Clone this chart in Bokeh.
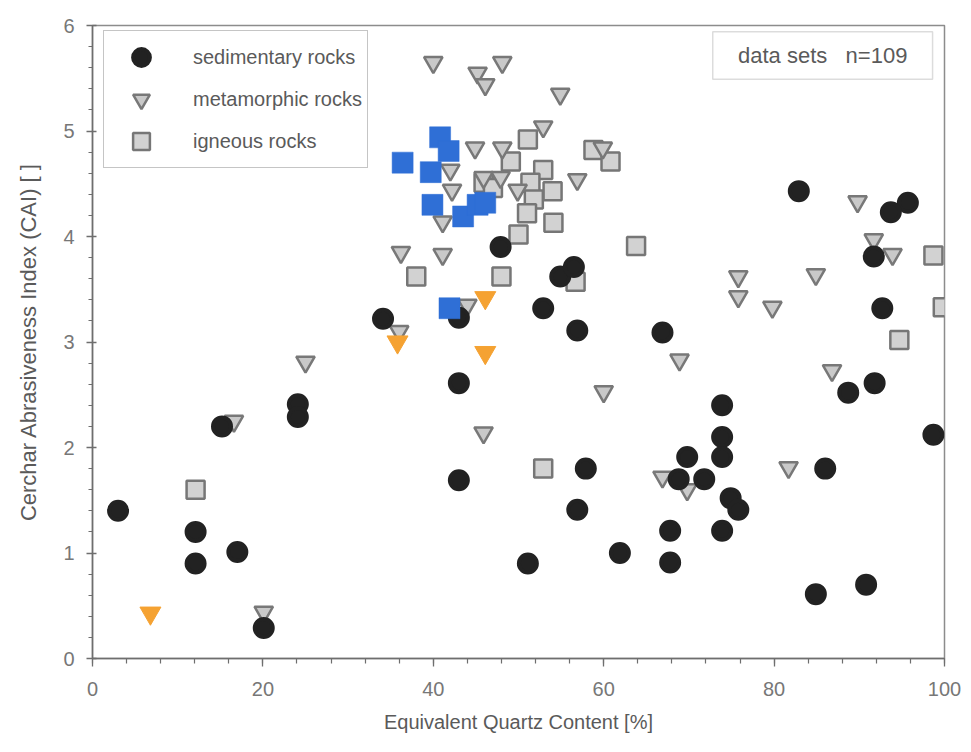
from bokeh.plotting import figure
from bokeh.models import (Legend, LegendItem, BoxAnnotation, Label,
                          SingleIntervalTicker, Range1d)
from bokeh.embed import file_html
from bokeh.resources import INLINE

# ---- data ----
sed_x = [3.0, 12.1, 12.1, 17.0, 15.2, 24.1, 24.1, 20.1, 34.1, 43.0, 43.0, 43.0,
         47.9, 52.9, 54.9, 56.5, 56.9, 66.9, 51.1, 57.9, 56.9, 61.9, 67.8, 67.8,
         68.8, 69.8, 71.8, 73.9, 73.9, 73.9, 74.9, 75.8, 73.9, 82.9, 95.7, 93.7,
         91.7, 92.7, 91.8, 88.7, 86.0, 98.7, 84.9, 90.8]
sed_y = [1.40, 1.20, 0.90, 1.01, 2.20, 2.41, 2.29, 0.29, 3.22, 3.23, 2.61, 1.69,
         3.90, 3.32, 3.62, 3.71, 3.11, 3.09, 0.90, 1.80, 1.41, 1.00, 1.21, 0.91,
         1.70, 1.91, 1.70, 2.40, 2.10, 1.91, 1.52, 1.41, 1.21, 4.43, 4.32, 4.23,
         3.81, 3.32, 2.61, 2.52, 1.80, 2.12, 0.61, 0.70]

met_x = [16.6, 20.1, 25.0, 36.0, 36.2, 41.1, 44.0, 45.9, 40.0, 48.1, 45.2, 46.1,
         54.9, 52.9, 44.9, 48.1, 42.0, 42.2, 41.1, 45.9, 47.9, 49.9, 56.9, 59.9,
         68.9, 60.0, 66.9, 69.8, 81.7, 89.8, 91.7, 93.9, 84.9, 79.8, 86.8, 75.8, 75.8]
met_y = [2.25, 0.44, 2.81, 3.10, 3.85, 3.83, 3.35, 2.14, 5.65, 5.65, 5.55, 5.44,
         5.35, 5.04, 4.84, 4.84, 4.63, 4.44, 4.14, 4.56, 4.56, 4.44, 4.54, 4.84,
         2.83, 2.53, 1.72, 1.60, 1.81, 4.33, 3.97, 3.83, 3.64, 3.33, 2.73, 3.62, 3.43]

ign_x = [12.1, 38.0, 48.0, 56.7, 52.9, 51.1, 49.1, 52.9, 54.0, 58.8, 60.8, 45.9,
         47.0, 51.4, 51.8, 51.0, 54.1, 50.0, 63.8, 98.7, 99.8, 94.7]
ign_y = [1.60, 3.62, 3.62, 3.57, 1.80, 4.92, 4.71, 4.63, 4.43, 4.82, 4.71, 4.51,
         4.46, 4.51, 4.35, 4.22, 4.13, 4.02, 3.91, 3.82, 3.33, 3.02]

blue_x = [40.8, 41.8, 36.4, 39.7, 39.9, 43.5, 45.2, 46.1, 41.9]
blue_y = [4.94, 4.81, 4.70, 4.61, 4.30, 4.19, 4.30, 4.32, 3.32]

orange_x = [6.8, 35.8, 46.1, 46.1]
orange_y = [0.43, 3.00, 3.42, 2.90]

legend_labels = ["sedimentary rocks", "metamorphic rocks", "igneous rocks"]
note_text = "data sets\u00a0\u00a0\u00a0n=109"
x_title = "Equivalent Quartz Content [%]"
y_title = "Cerchar Abrasiveness Index (CAI) [ ]"

FONT = "Liberation Sans"
TXT = "#5a5a5a"

p = figure(width=963, height=744, x_range=Range1d(0, 100), y_range=Range1d(0, 6),
           output_backend="svg", toolbar_location=None,
           min_border_left=92, min_border_right=19, min_border_top=25,
           min_border_bottom=86)
p.grid.visible = False
p.outline_line_color = "#8c8c8c"
p.outline_line_width = 1.5
p.background_fill_color = "white"

r_ign = p.scatter(ign_x, ign_y, marker="square", size=18, fill_color="#d2d2d2",
                  line_color="#767676", line_width=2.5)
r_met = p.scatter(met_x, met_y, marker="inverted_triangle", size=18.5,
                  fill_color="#c9c9c9", line_color="#787878", line_width=2.5)
r_sed = p.scatter(sed_x, sed_y, marker="circle", size=18, fill_color="#222222",
                  line_color="#222222", line_width=4)
p.scatter(blue_x, blue_y, marker="square", size=21, fill_color="#2f6fd6",
          line_color="#2f6fd6", line_width=0.5)
p.scatter(orange_x, orange_y, marker="inverted_triangle", size=21,
          fill_color="#f5a232", line_color="#f5a232", line_width=1)

# axes
p.xaxis.ticker = SingleIntervalTicker(interval=20, num_minor_ticks=5)
p.yaxis.ticker = SingleIntervalTicker(interval=1, num_minor_ticks=5)
for ax in (p.xaxis[0], p.yaxis[0]):
    ax.axis_line_color = "#6e6e6e"
    ax.axis_line_width = 1.5
    ax.major_tick_line_color = "#6e6e6e"
    ax.minor_tick_line_color = "#6e6e6e"
    ax.major_tick_line_width = 1.3
    ax.minor_tick_line_width = 1.2
    ax.major_label_text_font = FONT
    ax.major_label_text_font_size = "20px"
    ax.major_label_text_color = "#777777"
    ax.axis_label_text_font = FONT
    ax.axis_label_text_font_style = "normal"
    ax.axis_label_text_color = TXT

p.xaxis.major_tick_out = 8
p.xaxis.major_tick_in = 0
p.xaxis.minor_tick_out = 5
p.xaxis.minor_tick_in = 0
p.xaxis.major_label_standoff = 15
p.xaxis.axis_label = x_title
p.xaxis.axis_label_text_font_size = "20px"
p.xaxis.axis_label_standoff = 12

p.yaxis.major_tick_out = 6
p.yaxis.major_tick_in = 4
p.yaxis.minor_tick_out = 4
p.yaxis.minor_tick_in = 0
p.yaxis.major_label_standoff = 12
p.yaxis.axis_label = y_title
p.yaxis.axis_label_text_font_size = "22px"
p.yaxis.axis_label_standoff = 19

# legend
legend = Legend(items=[LegendItem(label=legend_labels[0], renderers=[r_sed]),
                       LegendItem(label=legend_labels[1], renderers=[r_met]),
                       LegendItem(label=legend_labels[2], renderers=[r_ign])],
                location=(11, 490), glyph_width=64, glyph_height=42,
                label_height=40, spacing=0, padding=5, margin=0,
                label_standoff=20,
                label_text_font=FONT, label_text_font_size="20px",
                label_text_color=TXT, border_line_color="#8c8c8c",
                border_line_width=1.5, background_fill_color="white",
                background_fill_alpha=1.0)
p.add_layout(legend)

# data-set note box
p.add_layout(BoxAnnotation(left=72.8, right=98.6, bottom=5.49, top=5.94,
                           fill_color="white", fill_alpha=1.0,
                           line_color="#8c8c8c", line_width=1.5))
p.add_layout(Label(x=85.7, y=5.715, text=note_text, text_align="center",
                   text_baseline="middle", text_font=FONT,
                   text_font_size="22px", text_color=TXT))

open("out.html", "w").write(file_html(p, INLINE))
